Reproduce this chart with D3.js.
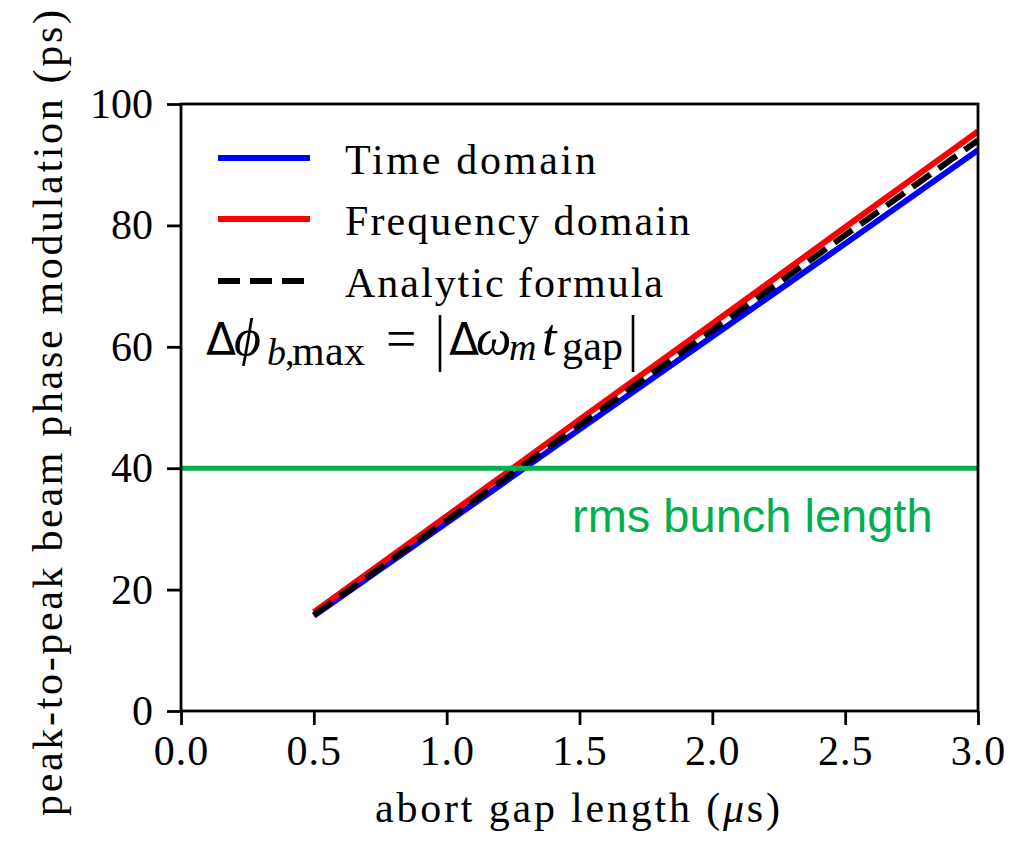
<!DOCTYPE html>
<html>
<head>
<meta charset="utf-8">
<script src="https://cdn.jsdelivr.net/npm/d3@7"></script>
<style>
html,body{margin:0;padding:0;background:#fff;}
svg{display:block;}
</style>
</head>
<body>
<svg id="chart" width="1028" height="842"></svg>
<script>
// ---- data ----
const gapLength = [0.5, 1.0, 1.5, 2.0, 2.5, 3.0];           // abort gap length (µs)
const timeDomain = [15.7, 31.0, 46.4, 61.7, 77.0, 92.4];      // ps
const freqDomain = [16.3, 32.1, 48.0, 63.8, 79.7, 95.5];      // ps
const analytic   = [15.8, 31.4, 47.1, 62.7, 78.4, 94.0];      // ps
const rmsBunchLength = 40;                                    // ps
const xTicks = [0.0, 0.5, 1.0, 1.5, 2.0, 2.5, 3.0];
const yTicks = [0, 20, 40, 60, 80, 100];
const seriesNames = ["Time domain", "Frequency domain", "Analytic formula"];

const svg = d3.select("#chart");
const L = 181, R = 978, T = 104, B = 711;
const x = d3.scaleLinear().domain([0, 3]).range([L, R]);
const y = d3.scaleLinear().domain([0, 100]).range([B, T]);

const serif = "'Liberation Serif','Times New Roman',serif";

svg.append("defs").append("clipPath").attr("id", "clip")
  .append("rect").attr("x", L).attr("y", T).attr("width", R - L).attr("height", B - T);

const series = [
  {name: seriesNames[0], vals: timeDomain, color: "#0000ff", dash: null, w: 251},
  {name: seriesNames[1], vals: freqDomain, color: "#ff0000", dash: null, w: 345},
  {name: seriesNames[2], vals: analytic,   color: "#000000", dash: "22,10", w: 318}
];

const line = d3.line().x(d => x(d[0])).y(d => y(d[1]));
const plot = svg.append("g").attr("clip-path", "url(#clip)");
series.forEach(s => {
  plot.append("path")
    .datum(gapLength.map((g, i) => [g, s.vals[i]]))
    .attr("d", line)
    .attr("fill", "none")
    .attr("stroke", s.color)
    .attr("stroke-width", 6)
    .attr("stroke-dasharray", s.dash);
});

// rms bunch length line
plot.append("line")
  .attr("x1", x(0)).attr("x2", x(3))
  .attr("y1", y(rmsBunchLength)).attr("y2", y(rmsBunchLength))
  .attr("stroke", "#00b050").attr("stroke-width", 5);

svg.append("text")
  .attr("x", 572).attr("y", 532)
  .attr("font-family", "'Liberation Sans',Arial,sans-serif")
  .attr("font-size", 47)
  .attr("fill", "#00b050")
  .text("rms bunch length");

// axes
const xAxis = d3.axisBottom(x).tickValues(xTicks).tickFormat(d3.format(".1f")).tickSize(14).tickPadding(10);
const yAxis = d3.axisLeft(y).tickValues(yTicks).tickFormat(d3.format("d")).tickSize(14).tickPadding(14);

const gx = svg.append("g").attr("transform", `translate(0,${B})`).call(xAxis);
const gy = svg.append("g").attr("transform", `translate(${L},0)`).call(yAxis);
[gx, gy].forEach(g => {
  g.select(".domain").remove();
  g.selectAll(".tick line").attr("stroke", "#000").attr("stroke-width", 2.8);
  g.selectAll(".tick text").attr("font-family", serif).attr("font-size", 42).attr("fill", "#000");
});
gx.selectAll(".tick text").attr("dy", "0.71em").attr("letter-spacing", 1);

// frame
svg.append("rect").attr("x", L).attr("y", T).attr("width", R - L).attr("height", B - T)
  .attr("fill", "none").attr("stroke", "#000").attr("stroke-width", 2.8);

// axis labels
svg.append("text")
  .attr("x", 375).attr("y", 822)
  .attr("font-family", serif).attr("font-size", 42)
  .attr("textLength", 405).attr("lengthAdjust", "spacing")
  .html("abort gap length (<tspan font-style='italic'>μ</tspan>s)");

svg.append("text")
  .attr("transform", `translate(62,816) rotate(-90)`)
  .attr("font-family", serif).attr("font-size", 42)
  .attr("textLength", 806).attr("lengthAdjust", "spacing")
  .text("peak-to-peak beam phase modulation (ps)");

// legend
const legY = [158, 219, 281];
series.forEach((s, i) => {
  svg.append("line")
    .attr("x1", 218).attr("x2", 310)
    .attr("y1", legY[i]).attr("y2", legY[i])
    .attr("stroke", s.color).attr("stroke-width", 6)
    .attr("stroke-dasharray", s.dash);
  svg.append("text")
    .attr("x", 345).attr("y", legY[i] + 16)
    .attr("font-family", serif).attr("font-size", 42)
    .attr("textLength", s.w).attr("lengthAdjust", "spacing")
    .text(s.name);
});

// formula
const f = svg.append("g").attr("fill", "#000");
const piece = (txt, x0, py, size, italic, fam, w) => {
  const t = f.append("text").attr("x", x0).attr("y", py)
    .attr("font-family", fam || serif).attr("font-size", size)
    .attr("font-style", italic ? "italic" : "normal")
    .text(txt);
  if (w) t.attr("textLength", w).attr("lengthAdjust", "spacing");
};
const sansF = "'DejaVu Sans','Noto Sans',sans-serif";
piece("Δ", 206, 355, 44, false, sansF);
piece("ϕ", 234, 355, 52, true);
piece("b", 267, 365, 38, true);
piece(",", 285, 365, 38, false);
piece("max", 292, 365, 42, false, null, 73);
piece("=", 386, 357, 54, false);
f.append("line").attr("x1", 440).attr("x2", 440).attr("y1", 315).attr("y2", 372).attr("stroke", "#000").attr("stroke-width", 2.6);
piece("Δ", 449, 355, 44, false, sansF);
piece("ω", 476, 355, 50, true);
piece("m", 509, 360, 38, true);
piece("t", 542, 355, 52, true);
piece("gap", 562, 360, 42, false, null, 61);
f.append("line").attr("x1", 633).attr("x2", 633).attr("y1", 315).attr("y2", 372).attr("stroke", "#000").attr("stroke-width", 2.6);
</script>
</body>
</html>
